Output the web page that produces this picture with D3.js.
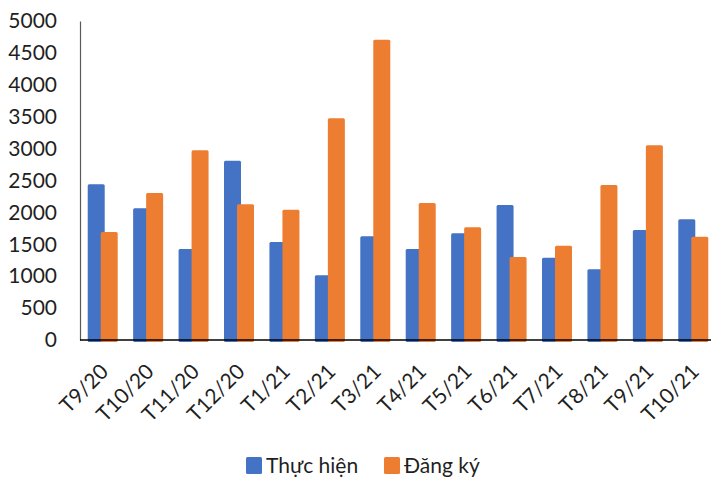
<!DOCTYPE html>
<html>
<head>
<meta charset="utf-8">
<script src="https://cdn.jsdelivr.net/npm/d3@7"></script>
<style>
  html, body { margin: 0; padding: 0; background: #fff; }
  svg { display: block; }
  text { font-family: Lato, "Open Sans", sans-serif; fill: #1f1f1f; }
</style>
</head>
<body>
<svg id="chart" width="711" height="479"></svg>
<script>
// Monthly figures, Sep 2020 – Oct 2021
const categories = ["T9/20", "T10/20", "T11/20", "T12/20", "T1/21", "T2/21", "T3/21",
                    "T4/21", "T5/21", "T6/21", "T7/21", "T8/21", "T9/21", "T10/21"];
const thucHien = [2440, 2064, 1426, 2810, 1536, 1014, 1625, 1426, 1672, 2116, 1290, 1108, 1724, 1892];
const dangKy   = [1693, 2304, 2973, 2127, 2043, 3475, 4707, 2147, 1766, 1301, 1478, 2429, 3051, 1620];
const seriesNames = ["Thực hiện", "Đăng ký"];
const yTicks = [0, 500, 1000, 1500, 2000, 2500, 3000, 3500, 4000, 4500, 5000];
const colors = ["#4472C4", "#ED7D31"];

const svg = d3.select("#chart");
const plotLeft = 80, plotRight = 716, plotTop = 21, plotBottom = 340;

const x = d3.scaleBand().domain(categories).range([plotLeft, plotRight]).padding(0);
const y = d3.scaleLinear().domain([0, 5000]).range([plotBottom, plotTop]);

const barW = 17;
const offsets = [-15, -2]; // blue and orange bars overlap a little

const data = categories.map((c, i) => ({ c, v: [thucHien[i], dangKy[i]] }));

// bars
[0, 1].forEach(s => {
  svg.append("g").selectAll("rect")
    .data(data)
    .join("rect")
    .attr("x", d => x(d.c) + x.bandwidth() / 2 + offsets[s])
    .attr("y", d => y(d.v[s]))
    .attr("width", barW)
    .attr("height", d => y(0) - y(d.v[s]) + 2)
    .attr("rx", 1.5)
    .attr("fill", colors[s]);
});

// y axis
const yAxis = svg.append("g")
  .attr("transform", `translate(${plotLeft},0)`)
  .call(d3.axisLeft(y).tickValues(yTicks).tickSize(0).tickPadding(23).tickFormat(d3.format("d")));
yAxis.select(".domain").attr("stroke", "#595959").attr("stroke-width", 1.2);
yAxis.selectAll("text").style("font-size", "21px").style("font-family", "Lato, sans-serif").attr("fill", "#1f1f1f");

// x axis
const xAxis = svg.append("g")
  .attr("transform", `translate(0,${plotBottom})`)
  .call(d3.axisBottom(x).tickSize(0).tickPadding(0));
xAxis.select(".domain").attr("stroke", "#000").attr("stroke-width", 1.5)
  .attr("d", `M${plotLeft},0H711`);
xAxis.selectAll("text")
  .style("font-size", "21px")
  .style("font-family", "Lato, sans-serif")
  .attr("fill", "#1f1f1f")
  .attr("text-anchor", "end")
  .attr("dy", 0)
  .attr("transform", "translate(7,33) rotate(-45)");

// legend
const legend = svg.append("g");
const legendItems = [
  { name: seriesNames[0], color: colors[0], x: 246 },
  { name: seriesNames[1], color: colors[1], x: 384 }
];
legendItems.forEach(it => {
  legend.append("rect").attr("x", it.x).attr("y", 457).attr("width", 16).attr("height", 17)
    .attr("rx", 1.5).attr("fill", it.color);
  legend.append("text").attr("x", it.x + 20).attr("y", 473)
    .style("font-size", "21px").text(it.name);
});
</script>
</body>
</html>
